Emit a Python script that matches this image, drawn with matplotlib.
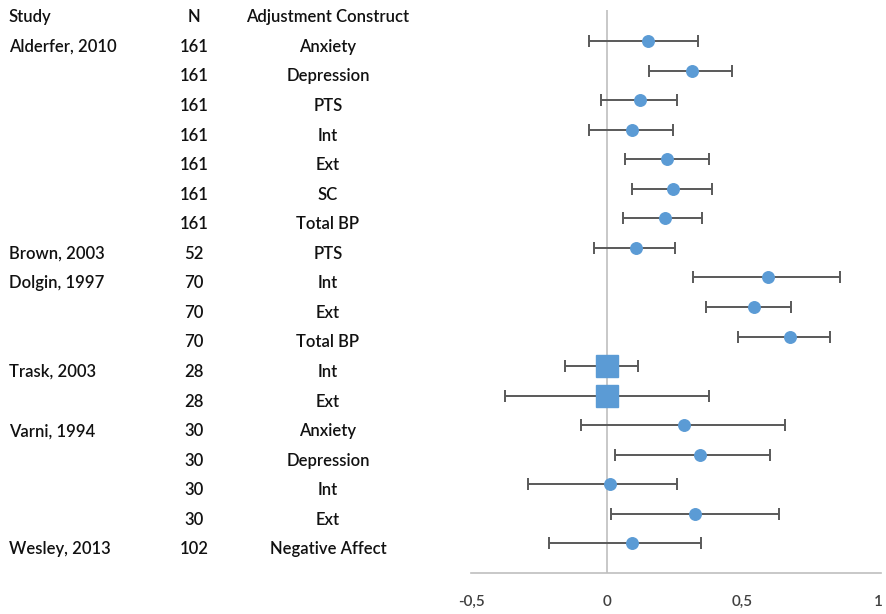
import matplotlib
matplotlib.use("Agg")
import matplotlib.pyplot as plt
from matplotlib.ticker import FuncFormatter

studies = ["Alderfer, 2010", "", "", "", "", "", "",
           "Brown, 2003", "Dolgin, 1997", "", "",
           "Trask, 2003", "", "Varni, 1994", "", "", "",
           "Wesley, 2013"]
ns = ["161", "161", "161", "161", "161", "161", "161",
      "52", "70", "70", "70", "28", "28", "30", "30", "30", "30", "102"]
constructs = ["Anxiety", "Depression", "PTS", "Int", "Ext", "SC", "Total BP",
              "PTS", "Int", "Ext", "Total BP", "Int", "Ext",
              "Anxiety", "Depression", "Int", "Ext", "Negative Affect"]
effect = [0.152, 0.314, 0.123, 0.091, 0.223, 0.244, 0.213,
          0.108, 0.595, 0.544, 0.675, 0.0, 0.0,
          0.285, 0.344, 0.012, 0.325, 0.091]
lower = [-0.065, 0.156, -0.022, -0.065, 0.065, 0.091, 0.060,
         -0.047, 0.316, 0.364, 0.483, -0.154, -0.375,
         -0.095, 0.031, -0.292, 0.014, -0.214]
upper = [0.335, 0.460, 0.257, 0.245, 0.376, 0.389, 0.352,
         0.252, 0.859, 0.680, 0.823, 0.114, 0.376,
         0.657, 0.603, 0.257, 0.634, 0.346]
square_rows = [11, 12]  # Trask rows drawn as squares
headers = ["Study", "N", "Adjustment Construct"]
xticks = [-0.5, 0, 0.5, 1]

W, H = 887, 614
fig = plt.figure(figsize=(W / 100, H / 100), dpi=100)
ax = fig.add_axes([471 / W, 1 - 573 / H, (881 - 471) / W, (573 - 10) / H])

blue = "#5B9BD5"
errc = "#595959"
grid = "#BFBFBF"
font = "Lato"

ypos = list(range(1, len(effect) + 1))
ax.axvline(0, color=grid, lw=1.2, zorder=1)
for i, y in enumerate(ypos):
    ax.errorbar(effect[i], y, xerr=[[effect[i] - lower[i]], [upper[i] - effect[i]]],
                fmt="none", ecolor=errc, elinewidth=1.4, capsize=4.3, capthick=1.4, zorder=2)
    if i in square_rows:
        ax.plot(effect[i], y, marker="s", ms=15.5, color=blue, zorder=3, ls="none")
    else:
        ax.plot(effect[i], y, marker="o", ms=8.3, color=blue, zorder=3, ls="none")

ax.set_xlim(-0.502, 1.011)
ax.set_ylim(19, -0.05)
for s in ["top", "right", "left"]:
    ax.spines[s].set_visible(False)
ax.spines["bottom"].set_color(grid)
ax.spines["bottom"].set_linewidth(1.2)
ax.set_yticks([])
ax.set_xticks(xticks)
ax.xaxis.set_major_formatter(FuncFormatter(lambda v, p: ("%g" % v).replace(".", ",")))
ax.tick_params(axis="x", length=0, pad=16, labelsize=11, labelcolor="#404040")
for lab in ax.get_xticklabels():
    lab.set_fontfamily(font)
    lab.set_fontweight("semibold")

trans = matplotlib.transforms.blended_transform_factory(fig.transFigure, ax.transData)
dy = 0.2
tc = "#111111"
fs = 12
fw = "semibold"
kw = dict(transform=trans, va="center", fontsize=fs, family=font, color=tc, fontweight=fw)
ax.text(9 / W, 0 + dy, headers[0], ha="left", **kw)
ax.text(194 / W, 0 + dy, headers[1], ha="center", **kw)
ax.text(328 / W, 0 + dy, headers[2], ha="center", **kw)
for i, y in enumerate(ypos):
    if studies[i]:
        ax.text(9 / W, y + dy, studies[i], ha="left", **kw)
    ax.text(194 / W, y + dy, ns[i], ha="center", **kw)
    ax.text(328 / W, y + dy, constructs[i], ha="center", **kw)

fig.savefig("out.png", dpi=100)
